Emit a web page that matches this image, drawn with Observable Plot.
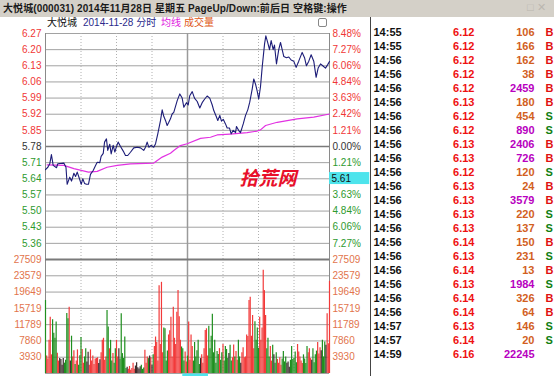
<!DOCTYPE html>
<html><head><meta charset="utf-8">
<script src="https://cdn.jsdelivr.net/npm/d3@7"></script>
<script src="https://cdn.jsdelivr.net/npm/@observablehq/plot@0.6"></script>
<style>
body{margin:0;background:#fff;}
#wrap{position:relative;width:554px;height:376px;overflow:hidden;background:#fff;font-family:"Liberation Sans","Noto Sans CJK SC",sans-serif;}
#hdr{position:absolute;left:0;top:0;width:554px;height:17px;background:#d4d0c8;}
#title{position:absolute;left:3px;top:2px;font-weight:bold;font-size:10px;line-height:13px;color:#1a1a1a;white-space:nowrap;letter-spacing:0.1px;}
#icons{position:absolute;left:527px;top:1px;font-size:11px;color:#bbb7b0;white-space:nowrap;}
.lg{position:absolute;top:16px;font-size:10px;line-height:13px;white-space:nowrap;}
#lgicon{position:absolute;left:318px;top:18px;width:7px;height:7px;border:1px solid #888;border-radius:2px;}
#price{position:absolute;left:0;top:17px;}
#vol{position:absolute;left:0;top:250px;}
#tape{position:absolute;left:370px;top:17px;border-left:1px solid #444;height:359px;}
svg{overflow:visible;}
</style></head>
<body>
<div id="wrap">
  <div id="hdr"><div id="title">大悦城(000031) 2014年11月28日 星期五 PageUp/Down:前后日 空格键:操作</div><div id="icons">□ ✕</div></div>
  <span class="lg" style="left:47px;color:#111">大悦城</span>
  <span class="lg" style="left:83px;color:#2b2b8c">2014-11-28 分时</span>
  <span class="lg" style="left:161px;color:#e020e0">均线</span>
  <span class="lg" style="left:184px;color:#e05a20">成交量</span>
  <div id="lgicon"></div>
  <div id="price"></div>
  <div id="vol"></div>
  <div id="tape"></div>
</div>
<script>
// ---------- data ----------
const prevClose = 5.78;
const priceTicks = [6.27,6.20,6.13,6.06,5.99,5.92,5.85,5.78,5.71,5.64,5.57,5.50,5.43,5.36];
const pctLabels = ["8.48%","7.27%","6.06%","4.84%","3.63%","2.42%","1.21%","0.00%","1.21%","2.42%","3.63%","4.84%","6.06%","7.27%"];
const volTicks = [3930,7860,11789,15719,19649,23579,27509];
const timeTicks = [30,60,90,120,150,180,210];

// minute (0..240), price
const priceTrace = [
[0,5.68],[2,5.69],[3.6,5.705],[5,5.745],[6.5,5.698],[9.3,5.688],[10.4,5.705],[15.5,5.708],[17.3,5.69],[18.3,5.616],
[20.5,5.647],[22,5.63],[24,5.664],[25.4,5.65],[26.8,5.669],[28.7,5.64],[30.2,5.616],[31.5,5.64],[33,5.62],[34.6,5.616],
[36.3,5.616],[38,5.659],[40.3,5.676],[42.3,5.698],[43.7,5.712],[45.9,5.71],[47,5.737],[48.8,5.75],[49.9,5.799],[51.5,5.813],
[52.6,5.763],[54.3,5.79],[55.5,5.748],[57.2,5.785],[58.6,5.756],[60,5.78],[61.4,5.799],[63.4,5.78],[65.7,5.76],[67.6,5.741],
[69.5,5.741],[71.8,5.755],[74.6,5.774],[77.5,5.777],[80.3,5.774],[83,5.763],[84.5,5.777],[85.9,5.799],[87.3,5.777],[89.3,5.785],
[91.5,5.777],[93,5.792],[94.9,5.835],[97.2,5.893],[98.6,5.939],[100,5.91],[101.4,5.893],[102.8,5.871],[104.2,5.885],[105.6,5.9],
[107,5.921],[108.4,5.928],[111.3,5.979],[113.5,6.008],[115.5,5.99],[116.9,5.95],[119.1,5.97],[120.6,5.96],[121.9,6.0],[124,6.018],
[125.9,5.99],[128.2,5.975],[130.4,5.947],[132.4,5.97],[134.4,5.985],[136.6,5.999],[138.8,5.99],[140.9,5.96],[142.2,5.936],[144.3,5.91],
[145.6,5.893],[147.3,5.915],[148.7,5.89],[150.2,5.898],[152.1,5.878],[153.5,5.86],[155.5,5.86],[156.9,5.835],[158.6,5.85],[160.6,5.84],
[161.4,5.867],[163.3,5.849],[164.8,5.84],[167.1,5.878],[169,5.914],[171,5.94],[172.6,5.972],[174.7,6.03],[176,6.073],[177.5,6.05],
[178.9,6.02],[180.2,5.986],[181.7,6.04],[183.1,6.123],[185.1,6.224],[186.2,6.26],[187.8,6.23],[189.3,6.2],[190.7,6.239],[192.4,6.2],
[193.5,6.22],[195.2,6.138],[197.1,6.2],[198.6,6.231],[200,6.2],[201.4,6.17],[203.6,6.165],[205.6,6.168],[207.6,6.155],[209.8,6.15],
[211.8,6.123],[214,6.15],[216.9,6.188],[218.9,6.165],[220.5,6.13],[222.5,6.15],[224.5,6.178],[226.7,6.15],[228.7,6.08],[230.4,6.12],
[232.4,6.138],[234.3,6.13],[236.6,6.12],[238.5,6.135],[240,6.149]
];

// minute, average price
const avgTrace = [
[1.4,5.70],[15.5,5.698],[24,5.684],[36.3,5.669],[43.7,5.672],[52,5.69],[60.6,5.698],[71.8,5.705],[91.5,5.708],[98.6,5.734],
[105.6,5.751],[108.4,5.763],[114,5.784],[119.7,5.792],[131,5.815],[139.4,5.82],[145,5.83],[156,5.834],[170.4,5.84],[178.9,5.847],
[181.7,5.852],[186,5.871],[195.8,5.885],[212.7,5.9],[226.7,5.907],[240,5.921]
];

// per-minute volume (hands), minutes 0..240
const volumes = [
17600,4200,3500,8000,13600,4500,13000,9700,8500,12400,
4900,3000,3600,3400,2000,3600,2500,3200,14500,13200,
16000,3000,9000,4000,5500,2200,3000,5700,2000,4300,
8700,5800,2500,4000,6000,2800,5100,2000,5700,3000,
4200,2200,3500,3600,3800,2400,3300,5000,8000,8500,
3200,4000,15200,11200,6000,8000,3000,4800,2500,6000,
8000,4000,6000,3500,14400,4800,3600,8800,1200,1500,
1000,1700,800,1200,2500,1000,1800,2600,1400,1100,
1600,2000,1000,1300,5600,2500,4000,3600,4200,3800,
2000,4500,6500,8800,7500,3000,21200,7000,22000,5000,
11000,10800,3000,5400,9300,10300,13600,4000,16000,8500,
7000,14800,20000,13700,8000,6400,6000,3000,5200,2800,
4200,12400,3200,9300,6500,3000,7500,4000,5500,8000,
2200,3600,4500,2500,6000,10400,10800,4200,11400,6000,
9000,14300,5000,8000,2500,5300,4600,6000,3200,5000,
7000,3000,6500,5800,3600,4800,6800,3000,3800,6900,
4000,5300,3200,8000,4000,2500,5000,6200,3800,4000,
9300,8900,17600,18400,9000,14000,6000,12500,8000,11000,
6100,13600,8000,11000,24900,20000,14000,6000,8500,4000,
6500,3000,6800,4500,2500,5000,3400,2500,3800,2000,
3500,5300,2800,4000,2500,2800,1500,3200,6500,3400,
3600,5200,2600,7000,5200,4000,3000,2400,4500,3500,
2400,6500,5000,6000,3600,3200,6000,2600,4500,5400,
7500,4700,6200,5500,8000,4000,7600,6800,14400,7200,
22245
];

const cursorPrice = "5.61";
const cursorLevel = 5.64;   // grid level whose right-hand label the cursor box covers
const watermark = "拾荒网";

// trade tape
const tapeTime = ["14:55","14:55","14:56","14:56","14:56","14:56","14:56","14:56","14:56","14:56","14:56","14:56","14:56","14:56","14:56","14:56","14:56","14:56","14:56","14:56","14:56","14:57","14:57","14:59"];
const tapePrice = [6.12,6.12,6.12,6.12,6.12,6.13,6.12,6.12,6.13,6.13,6.12,6.13,6.13,6.13,6.13,6.14,6.13,6.14,6.13,6.14,6.14,6.13,6.14,6.16];
const tapeVol = [106,166,162,38,2459,180,454,890,2406,726,120,24,3579,220,137,150,231,13,1984,326,64,146,20,22245];
const tapeSide = ["B","B","B","B","B","B","S","S","B","B","S","B","B","S","S","B","S","B","S","B","B","S","S",""];

// ---------- colors ----------
const cUp = "#f03636", cDown = "#2e9a2e", cZero = "#333333", cVolLbl = "#e2744c";
const fontFam = "'Liberation Sans', Arial, sans-serif";

// ---------- price panel ----------
const tickRows = priceTicks.map((p, i) => ({p, pct: pctLabels[i]}));
const upRows = tickRows.filter(d => d.p > prevClose);
const zeroRows = tickRows.filter(d => d.p === prevClose);
const downRows = tickRows.filter(d => d.p < prevClose);
const lblOpts = (fill) => ({y: "p", text: d => d.p.toFixed(2), frameAnchor: "left", textAnchor: "end", dx: -4, fill, fontSize: 10});
const pctOpts = (fill) => ({y: "p", text: "pct", frameAnchor: "right", textAnchor: "start", dx: 3, fill, fontSize: 10});

const priceChart = Plot.plot({
  width: 370, height: 243,
  marginTop: 16, marginBottom: 1, marginLeft: 45, marginRight: 41,
  x: {domain: [0, 240], axis: null},
  y: {domain: [5.29, 6.27], axis: null},
  style: {fontFamily: fontFam, background: "transparent", overflow: "visible"},
  marks: [
    Plot.ruleY(priceTicks.filter(p => p !== prevClose), {stroke: "#a2a2a2"}),
    Plot.ruleY([prevClose], {stroke: "#7a7a7a", strokeWidth: 1.6}),
    Plot.ruleX(timeTicks.filter(t => t !== 120), {stroke: "#b0b0b0", strokeDasharray: "1,2"}),
    Plot.ruleX([120], {stroke: "#9a9a9a", strokeWidth: 1.5}),
    Plot.ruleX([0, 240], {stroke: "#8a8a8a"}),
    Plot.line(avgTrace, {x: d => d[0], y: d => d[1], stroke: "#e232e2", strokeWidth: 1.2}),
    Plot.line(priceTrace, {x: d => d[0], y: d => d[1], stroke: "#1c1c78", strokeWidth: 1.1}),
    Plot.text(upRows, lblOpts(cUp)),
    Plot.text(zeroRows, lblOpts(cZero)),
    Plot.text(downRows, lblOpts(cDown)),
    Plot.text(upRows, pctOpts(cUp)),
    Plot.text(zeroRows, pctOpts(cZero)),
    Plot.text(downRows.filter(d => d.p !== cursorLevel), pctOpts(cDown)),
    Plot.rect([cursorPrice], {x1: 240, x2: 274, y1: 5.615, y2: 5.667, fill: "#4ee4ec"}),
    Plot.text([cursorPrice], {x: 240, y: 5.641, text: d => d, textAnchor: "start", dx: 2, fill: "#111", fontSize: 10}),
    Plot.text([watermark], {x: 188, y: 5.64, text: d => d, fill: "#e8102a", fontSize: 19, fontWeight: "bold", fontStyle: "italic", fontFamily: "'Noto Sans CJK SC', sans-serif"})
  ]
});
document.getElementById("price").append(priceChart);

// ---------- volume panel ----------
const pAt = d3.scaleLinear().domain(priceTrace.map(d => d[0])).range(priceTrace.map(d => d[1]));
const bars = volumes.map((v, i) => {
  const diff = pAt(i) - (i === 0 ? prevClose : pAt(i - 1));
  return {i, v, dir: Math.abs(diff) < 0.002 ? "flat" : diff > 0 ? "up" : "down"};
});
const volChart = Plot.plot({
  width: 370, height: 126,
  marginTop: 9, marginBottom: 3, marginLeft: 45, marginRight: 41,
  x: {domain: [0, 240], axis: null},
  y: {domain: [0, 27509], axis: null},
  style: {fontFamily: fontFam, background: "transparent", overflow: "visible"},
  marks: [
    Plot.ruleY(volTicks.filter(v => v !== 27509), {stroke: "#a2a2a2"}),
    Plot.ruleY([0], {stroke: "#a2a2a2"}),
    Plot.ruleX(timeTicks.filter(t => t !== 120), {stroke: "#b0b0b0", strokeDasharray: "1,2"}),
    Plot.ruleX([120], {stroke: "#9a9a9a", strokeWidth: 1.5}),
    Plot.ruleX([0, 240], {stroke: "#8a8a8a"}),
    Plot.ruleX(bars.filter(d => d.dir === "up"), {x: "i", y1: 0, y2: "v", stroke: "#f23a3a", strokeWidth: 1.2}),
    Plot.ruleX(bars.filter(d => d.dir === "down"), {x: "i", y1: 0, y2: "v", stroke: "#1f8f1f", strokeWidth: 1.2}),
    Plot.ruleX(bars.filter(d => d.dir === "flat"), {x: "i", y1: 0, y2: "v", stroke: "#3a2a2a", strokeWidth: 1.2}),
    Plot.ruleY([27509], {stroke: "#7a7a7a", strokeWidth: 2}),
    Plot.text(volTicks, {y: d => d, text: d => String(d), frameAnchor: "left", textAnchor: "end", dx: -4, fill: cVolLbl, fontSize: 10}),
    Plot.text(volTicks, {y: d => d, text: d => String(d), frameAnchor: "right", textAnchor: "start", dx: 3, fill: cVolLbl, fontSize: 10}),
    Plot.rect([0], {x1: 116, x2: 137.7, y1: -120, y2: -1200, fill: "#4ee4ec"})
  ]
});
document.getElementById("vol").append(volChart);

// ---------- trade tape ----------
const rows = tapeTime.map((t, i) => ({i, t, p: tapePrice[i], v: tapeVol[i], s: tapeSide[i]}));
const colText = (data, text, fill, dx, textAnchor) =>
  Plot.text(data, {y: "i", text, fill, dx, textAnchor, frameAnchor: "left", fontWeight: "bold", fontSize: 11});
const tapeChart = Plot.plot({
  width: 183, height: 359, margin: 0,
  y: {type: "point", domain: d3.range(tapeTime.length), range: [7.3, 345.3], axis: null},
  style: {fontFamily: fontFam, background: "transparent"},
  marks: [
    colText(rows, "t", "#111", 2, "start"),
    colText(rows, d => d.p.toFixed(2), "#ee1111", 103, "end"),
    colText(rows.filter(d => d.v < 500), d => String(d.v), "#d2601e", 163, "end"),
    colText(rows.filter(d => d.v >= 500), d => String(d.v), "#b800c0", 163, "end"),
    colText(rows.filter(d => d.s === "B"), "s", "#e01010", 174, "start"),
    colText(rows.filter(d => d.s === "S"), "s", "#108010", 174, "start")
  ]
});
document.getElementById("tape").append(tapeChart);
</script>
</body></html>
